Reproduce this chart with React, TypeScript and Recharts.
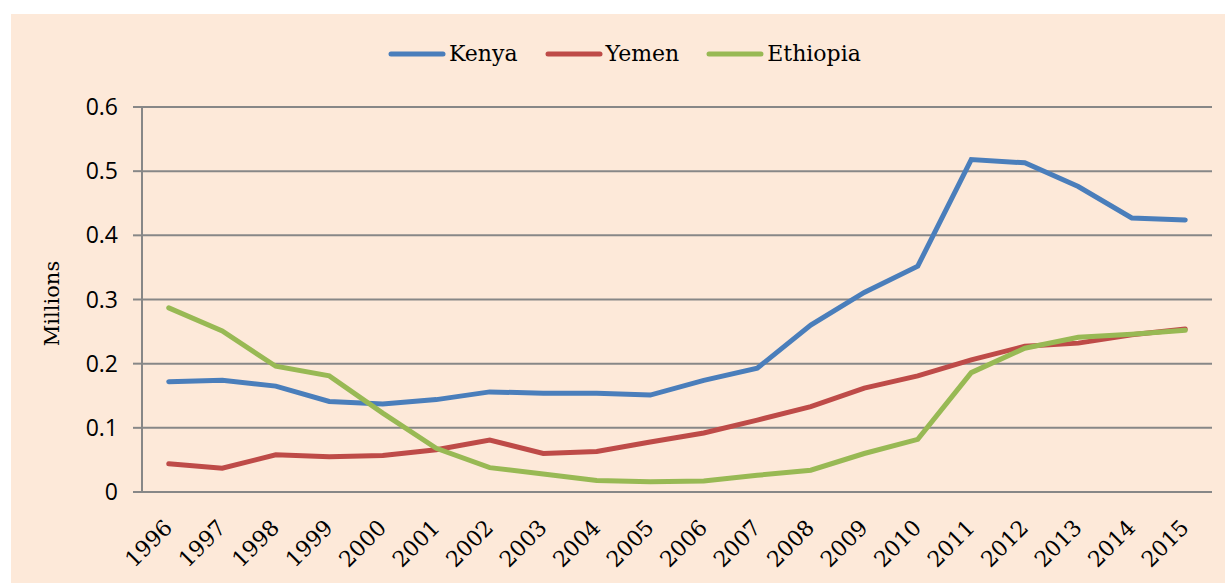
import React from "react";
import { LineChart, Line, XAxis, YAxis, CartesianGrid, Legend } from "recharts";

const years = ["1996", "1997", "1998", "1999", "2000", "2001", "2002", "2003", "2004", "2005", "2006", "2007", "2008", "2009", "2010", "2011", "2012", "2013", "2014", "2015"];
const kenya = [0.172, 0.174, 0.165, 0.141, 0.137, 0.144, 0.156, 0.154, 0.154, 0.151, 0.174, 0.193, 0.26, 0.311, 0.352, 0.518, 0.513, 0.476, 0.427, 0.424];
const yemen = [0.044, 0.037, 0.058, 0.055, 0.057, 0.066, 0.081, 0.06, 0.063, 0.078, 0.092, 0.112, 0.133, 0.162, 0.181, 0.206, 0.227, 0.232, 0.245, 0.254];
const ethiopia = [0.287, 0.251, 0.196, 0.181, 0.123, 0.068, 0.038, 0.028, 0.018, 0.016, 0.017, 0.026, 0.034, 0.06, 0.082, 0.186, 0.224, 0.241, 0.246, 0.252];
const yTicks = [0, 0.1, 0.2, 0.3, 0.4, 0.5, 0.6];
const seriesOrder = ["Kenya", "Yemen", "Ethiopia"];

const data = years.map((year, i) => ({
  i,
  year,
  Kenya: kenya[i],
  Yemen: yemen[i],
  Ethiopia: ethiopia[i],
}));

const labelTicks = years.map((_, i) => i);
const boundaryTicks = years.map((_, i) => i - 0.5).concat(years.length - 0.5);

const GRID = "#878787";
const SERIF = "DejaVu Serif";

const YearTick = (props: any) => {
  const { x, y, payload } = props;
  return (
    <text
      x={0}
      y={0}
      transform={`translate(${x + 5},${y + 29}) rotate(-45)`}
      textAnchor="end"
      fontFamily={SERIF}
      fontSize={22}
      fill="#000"
    >
      {years[payload.value]}
    </text>
  );
};

const LegendContent = (props: any) => {
  const { payload } = props;
  const items = seriesOrder
    .map((name) => (payload || []).find((p: any) => p.value === name))
    .filter(Boolean);
  return (
    <div style={{ display: "flex", alignItems: "center" }}>
      {items.map((entry: any) => (
        <div key={entry.value} style={{ display: "flex", alignItems: "center", marginRight: 27 }}>
          <svg width={58} height={8} style={{ marginRight: 3 }}>
            <line x1={3} y1={4} x2={55} y2={4} stroke={entry.color} strokeWidth={5} strokeLinecap="round" />
          </svg>
          <span style={{ fontFamily: SERIF, fontSize: 22, color: "#000", lineHeight: "26px" }}>{entry.value}</span>
        </div>
      ))}
    </div>
  );
};

const MillionsLabel = (props: any) => {
  const { viewBox } = props;
  const cy = viewBox.y + viewBox.height / 2 + 4;
  return (
    <text
      x={0}
      y={0}
      transform={`translate(48,${cy}) rotate(-90)`}
      textAnchor="middle"
      fontFamily={SERIF}
      fontSize={21}
      fill="#000"
    >
      Millions
    </text>
  );
};

export default function App() {
  return (
    <div style={{ position: "absolute", left: 0, top: 0, width: 1225, height: 583, background: "#fff" }}>
      <div style={{ position: "absolute", left: 11, top: 14, width: 1214, height: 569, background: "#FDE9D9" }}>
        <LineChart width={1214} height={569} data={data} margin={{ top: 67, right: 13, bottom: 0, left: 0 }}>
          <CartesianGrid horizontal vertical={false} stroke={GRID} strokeWidth={2} />
          <XAxis
            xAxisId="marks"
            dataKey="i"
            type="number"
            domain={[-0.5, years.length - 0.5]}
            ticks={boundaryTicks}
            interval={0}
            tick={false}
            tickSize={8}
            height={0}
            axisLine={{ stroke: GRID, strokeWidth: 2 }}
            tickLine={{ stroke: GRID, strokeWidth: 2 }}
          />
          <XAxis
            dataKey="i"
            type="number"
            domain={[-0.5, years.length - 0.5]}
            ticks={labelTicks}
            interval={0}
            tick={<YearTick />}
            height={91}
            axisLine={false}
            tickLine={false}
          />
          <YAxis
            domain={[0, 0.6]}
            ticks={yTicks}
            width={131}
            tickSize={9}
            tickMargin={15}
            axisLine={{ stroke: GRID, strokeWidth: 2 }}
            tickLine={{ stroke: GRID, strokeWidth: 2 }}
            tick={{ fontFamily: "Open Sans", fontSize: 23, fill: "#000" }}
            label={<MillionsLabel />}
          />
          <Legend
            verticalAlign="top"
            align="left"
            content={<LegendContent />}
            wrapperStyle={{ top: 27, left: 377, width: "auto" }}
          />
          <Line xAxisId="marks" dataKey="Kenya" stroke="#4A7EBB" strokeWidth={5} dot={false} strokeLinecap="round" isAnimationActive={false} />
          <Line xAxisId="marks" dataKey="Yemen" stroke="#BE4B48" strokeWidth={5} dot={false} strokeLinecap="round" isAnimationActive={false} />
          <Line xAxisId="marks" dataKey="Ethiopia" stroke="#98B954" strokeWidth={5} dot={false} strokeLinecap="round" isAnimationActive={false} />
        </LineChart>
      </div>
    </div>
  );
}
